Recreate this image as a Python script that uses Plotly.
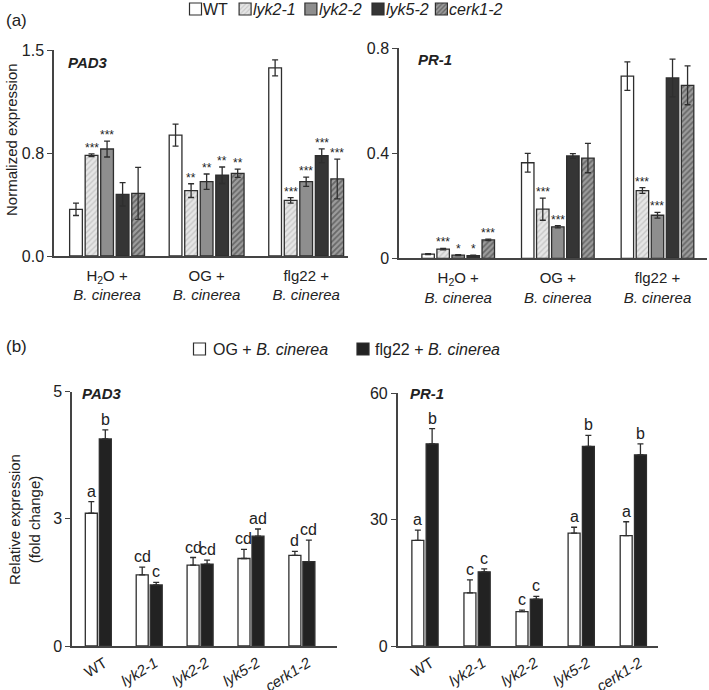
import plotly.graph_objects as go

W, H = 709, 690

# ---------------- data ----------------
genotypes = ["WT", "lyk2-1", "lyk2-2", "lyk5-2", "cerk1-2"]
genotype_labels = ["WT", "<i>lyk2-1</i>", "<i>lyk2-2</i>", "<i>lyk5-2</i>", "<i>cerk1-2</i>"]
treat_labels_a = ["H<sub>2</sub>O +<br><i>B. cinerea</i>",
                  "OG +<br><i>B. cinerea</i>",
                  "flg22 +<br><i>B. cinerea</i>"]

# (a) PAD3 normalized expression
pad3_wt = [0.34, 0.88, 1.37]
pad3_wt_err = [0.045, 0.08, 0.058]
pad3_lyk21 = [0.733, 0.476, 0.405]
pad3_lyk21_err = [0.01, 0.05, 0.02]
pad3_lyk22 = [0.779, 0.541, 0.541]
pad3_lyk22_err = [0.058, 0.056, 0.034]
pad3_lyk52 = [0.449, 0.588, 0.730]
pad3_lyk52_err = [0.085, 0.06, 0.05]
pad3_cerk12 = [0.456, 0.602, 0.561]
pad3_cerk12_err = [0.19, 0.03, 0.145]
pad3_sig_wt = ["", "", ""]
pad3_sig_lyk21 = ["***", "**", "***"]
pad3_sig_lyk22 = ["***", "**", "***"]
pad3_sig_lyk52 = ["", "**", "***"]
pad3_sig_cerk12 = ["", "**", "***"]

# (a) PR-1 normalized expression
pr1_wt = [0.016, 0.364, 0.694]
pr1_wt_err = [0.002, 0.036, 0.054]
pr1_lyk21 = [0.035, 0.187, 0.258]
pr1_lyk21_err = [0.003, 0.042, 0.011]
pr1_lyk22 = [0.012, 0.12, 0.164]
pr1_lyk22_err = [0.002, 0.004, 0.011]
pr1_lyk52 = [0.01, 0.39, 0.687]
pr1_lyk52_err = [0.002, 0.009, 0.072]
pr1_cerk12 = [0.07, 0.382, 0.659]
pr1_cerk12_err = [0.003, 0.056, 0.074]
pr1_sig_wt = ["", "", ""]
pr1_sig_lyk21 = ["***", "***", "***"]
pr1_sig_lyk22 = ["*", "***", "***"]
pr1_sig_lyk52 = ["*", "", ""]
pr1_sig_cerk12 = ["***", "", ""]

# (b) fold change
pad3_og = [2.61, 1.40, 1.59, 1.72, 1.78]
pad3_og_err = [0.23, 0.15, 0.15, 0.18, 0.08]
pad3_flg = [4.07, 1.20, 1.61, 2.16, 1.66]
pad3_flg_err = [0.18, 0.05, 0.08, 0.14, 0.42]
pad3_og_letters = ["a", "cd", "cd", "cd", "d"]
pad3_flg_letters = ["b", "c", "cd", "ad", "cd"]

pr1_og = [25.1, 12.6, 8.15, 26.8, 26.2]
pr1_og_err = [2.4, 3.1, 0.35, 1.4, 3.3]
pr1_flg = [48.0, 17.6, 11.1, 47.4, 45.4]
pr1_flg_err = [3.6, 0.7, 0.7, 2.6, 2.6]
pr1_og_letters = ["a", "c", "c", "a", "a"]
pr1_flg_letters = ["b", "c", "c", "b", "b"]

# axis ticks
pad3_a_ticks = [0, 0.75, 1.5]
pad3_a_ticktext = ["0.0", "0.8", "1.5"]
pr1_a_ticks = [0, 0.4, 0.8]
pr1_a_ticktext = ["0", "0.4", "0.8"]
pad3_b_ticks = [0, 2.5, 5]
pad3_b_ticktext = ["0", "3", "5"]
pr1_b_ticks = [0, 30, 60]
pr1_b_ticktext = ["0", "30", "60"]

# ---------------- styles ----------------
FONT = "Liberation Sans, Arial, sans-serif"
TXT = "#222222"
EDGE = "#2e2e2e"
geno_fill = ["#ffffff", "#e2e2e2", "#8e8e8e", "#353535", "#999999"]
geno_pat = [None,
            dict(shape="/", fgcolor="#a8a8a8", bgcolor="#e6e6e6", size=4, solidity=0.35),
            None, None,
            dict(shape="/", fgcolor="#333333", bgcolor="#9c9c9c", size=4, solidity=0.45)]
treat_fill = ["#ffffff", "#222222"]
treat_names = ["OG + <i>B. cinerea</i>", "flg22 + <i>B. cinerea</i>"]

fig = go.Figure()


def px_x(p):
    return p / W


def px_y(p):
    return 1 - p / H


annotations = []


def add_group_bars(xa, ya, means, errs, fills, pats, names, step, width, ncat,
                   sym, labels, label_size, label_shift):
    n = len(means)
    for i in range(n):
        xs = [g + (i - (n - 1) / 2) * step for g in range(ncat)]
        marker = dict(color=fills[i], line=dict(color=EDGE, width=1.3))
        if pats[i] is not None:
            marker["pattern"] = pats[i]
        err = dict(type="data", array=errs[i], color=EDGE, thickness=1.3, width=3)
        if not sym:
            err["symmetric"] = False
            err["arrayminus"] = [0] * ncat
        fig.add_trace(go.Bar(
            x=xs, y=means[i], width=width, marker=marker, error_y=err,
            name=names[i], xaxis=xa, yaxis=ya, showlegend=False))
        for g in range(ncat):
            t = labels[i][g]
            if t:
                annotations.append(dict(
                    x=xs[g], y=means[i][g] + errs[i][g],
                    xref=xa, yref=ya, text=t, showarrow=False,
                    yanchor="bottom", yshift=label_shift,
                    font=dict(size=label_size, color=TXT, family=FONT)))


# panel a left : PAD3
add_group_bars("x", "y",
               [pad3_wt, pad3_lyk21, pad3_lyk22, pad3_lyk52, pad3_cerk12],
               [pad3_wt_err, pad3_lyk21_err, pad3_lyk22_err, pad3_lyk52_err, pad3_cerk12_err],
               geno_fill, geno_pat, genotype_labels, 0.156, 0.128, 3, True,
               [pad3_sig_wt, pad3_sig_lyk21, pad3_sig_lyk22, pad3_sig_lyk52, pad3_sig_cerk12],
               12, -3)
# panel a right : PR-1
add_group_bars("x2", "y2",
               [pr1_wt, pr1_lyk21, pr1_lyk22, pr1_lyk52, pr1_cerk12],
               [pr1_wt_err, pr1_lyk21_err, pr1_lyk22_err, pr1_lyk52_err, pr1_cerk12_err],
               geno_fill, geno_pat, genotype_labels, 0.151, 0.125, 3, True,
               [pr1_sig_wt, pr1_sig_lyk21, pr1_sig_lyk22, pr1_sig_lyk52, pr1_sig_cerk12],
               12, -3)
# panel b left : PAD3
add_group_bars("x3", "y3", [pad3_og, pad3_flg], [pad3_og_err, pad3_flg_err],
               treat_fill, [None, None], treat_names, 0.275, 0.236, 5, False,
               [pad3_og_letters, pad3_flg_letters], 16, 0)
# panel b right : PR-1
add_group_bars("x4", "y4", [pr1_og, pr1_flg], [pr1_og_err, pr1_flg_err],
               treat_fill, [None, None], treat_names, 0.274, 0.23, 5, False,
               [pr1_og_letters, pr1_flg_letters], 16, 0)

# legend swatches (symbol-only legend entries, one legend each) + text labels
legend_ids = ["legend", "legend2", "legend3", "legend4", "legend5", "legend6", "legend7"]
swatch_fill = geno_fill + treat_fill
swatch_pat = geno_pat + [None, None]
swatch_text = genotype_labels + treat_names
swatch_box_x = [194.0, 243.6, 309.4, 376.5, 439.9, 198.0, 361.5]
swatch_text_x = [200.5, 250.5, 316.5, 383.5, 446.5, 210.5, 372.5]
swatch_y = [9, 9, 9, 9, 9, 349, 349]
swatch_font = [16, 16, 16, 16, 16, 16, 16]

for k in range(len(legend_ids)):
    marker = dict(color=swatch_fill[k], line=dict(color=EDGE, width=1.2))
    if swatch_pat[k] is not None:
        marker["pattern"] = swatch_pat[k]
    fig.add_trace(go.Bar(x=[None], y=[None], name="", marker=marker,
                         showlegend=True, legend=legend_ids[k], xaxis="x", yaxis="y"))

axis_common = dict(showline=True, linecolor="#444444", linewidth=1.5, showgrid=False,
                   zeroline=False, tickfont=dict(family=FONT, size=16, color=TXT))


def xax(domain, rng, tickvals, ticktext, angle, size, anchor, standoff, shift):
    d = dict(axis_common)
    d.update(domain=domain, range=rng, tickvals=tickvals, ticktext=ticktext,
             ticks="", tickangle=angle, anchor=anchor, ticklabelstandoff=standoff,
             ticklabelshift=shift,
             tickfont=dict(family=FONT, size=size, color=TXT))
    return d


def yax(domain, rng, tickvals, ticktext, anchor):
    d = dict(axis_common)
    d.update(domain=domain, range=rng, tickvals=tickvals, ticktext=ticktext,
             ticks="outside", ticklen=5, tickwidth=1.3, tickcolor="#444444", anchor=anchor)
    return d


layout = dict(
    width=W, height=H, margin=dict(l=0, r=0, t=0, b=0, autoexpand=False),
    paper_bgcolor="white", plot_bgcolor="white",
    barmode="overlay", font=dict(family=FONT, color=TXT),
    xaxis=xax([px_x(54), px_x(348)], [-0.533, 2.42], [0, 1, 2], treat_labels_a, 0, 15, "y", 5, 0),
    yaxis=yax([px_y(256), px_y(50)], [0, 1.5], pad3_a_ticks, pad3_a_ticktext, "x"),
    xaxis2=xax([px_x(399), px_x(707)], [-0.594, 2.497], [0, 1, 2], treat_labels_a, 0, 15, "y2", 5, 0),
    yaxis2=yax([px_y(258.3), px_y(48.3)], [0, 0.8], pr1_a_ticks, pr1_a_ticktext, "x2"),
    xaxis3=xax([px_x(72), px_x(337)], [-0.517, 4.69], list(range(5)), genotype_labels, -32, 15, "y3", 1, 6),
    yaxis3=yax([px_y(646), px_y(391.7)], [0, 5], pad3_b_ticks, pad3_b_ticktext, "x3"),
    xaxis4=xax([px_x(397.7), px_x(658)], [-0.524, 4.474], list(range(5)), genotype_labels, -32, 15, "y4", 1, 6),
    yaxis4=yax([px_y(646), px_y(393.3)], [0, 60], pr1_b_ticks, pr1_b_ticktext, "x4"),
)

for k in range(len(legend_ids)):
    layout[legend_ids[k]] = dict(
        x=px_x(swatch_box_x[k] - 18.5), y=px_y(swatch_y[k]), xanchor="left", yanchor="middle",
        orientation="h", bgcolor="rgba(0,0,0,0)", borderwidth=0,
        font=dict(family=FONT, size=12, color=TXT), itemwidth=30)
    annotations.append(dict(x=px_x(swatch_text_x[k]), y=px_y(swatch_y[k]), xref="paper", yref="paper",
                            text=swatch_text[k], showarrow=False, xanchor="left", yanchor="middle",
                            font=dict(family=FONT, size=swatch_font[k], color=TXT)))

fig.update_layout(**layout)

# text annotations: panel labels, gene names, axis titles
extra = [
    dict(x=px_x(4), y=px_y(20), text="(a)", size=17),
    dict(x=px_x(4), y=px_y(346), text="(b)", size=17),
    dict(x=px_x(66), y=px_y(62), text="<b><i>PAD3</i></b>", size=15),
    dict(x=px_x(416), y=px_y(59), text="<b><i>PR-1</i></b>", size=15),
    dict(x=px_x(80), y=px_y(393), text="<b><i>PAD3</i></b>", size=15),
    dict(x=px_x(408), y=px_y(393), text="<b><i>PR-1</i></b>", size=15),
]
for e in extra:
    annotations.append(dict(x=e["x"], y=e["y"], xref="paper", yref="paper", text=e["text"],
                            showarrow=False, xanchor="left", yanchor="middle",
                            font=dict(family=FONT, size=e["size"], color=TXT)))
annotations.append(dict(x=px_x(11), y=px_y(140), xref="paper", yref="paper",
                        text="Normalized expression", textangle=-90, showarrow=False,
                        xanchor="center", yanchor="middle",
                        font=dict(family=FONT, size=15, color=TXT)))
annotations.append(dict(x=px_x(24), y=px_y(520), xref="paper", yref="paper",
                        text="Relative expression<br>(fold change)", textangle=-90, showarrow=False,
                        xanchor="center", yanchor="middle",
                        font=dict(family=FONT, size=15, color=TXT)))
fig.update_layout(annotations=annotations)

fig.write_html("out.html", config={"displayModeBar": False},
               post_script="document.body.style.margin='0';document.body.style.padding='0';")
